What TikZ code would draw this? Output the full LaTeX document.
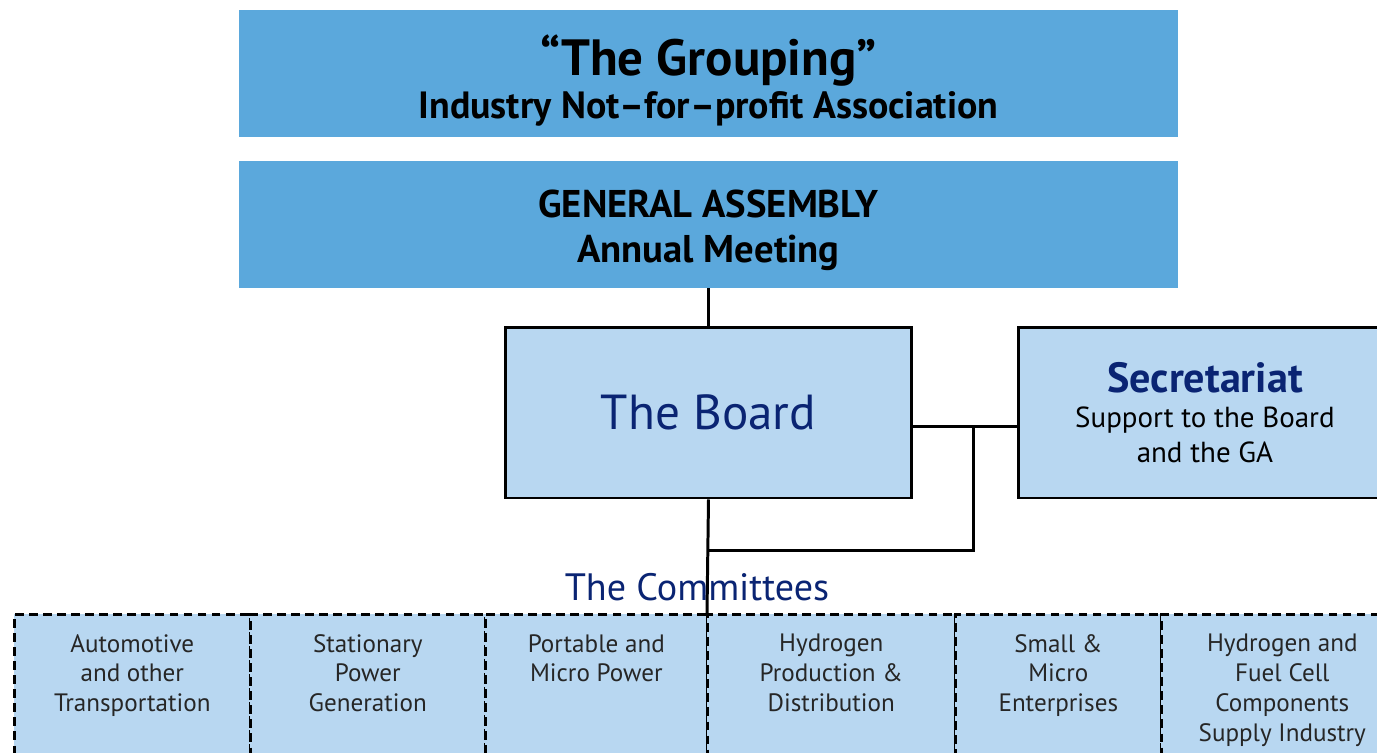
\documentclass[tikz,border=0pt]{standalone}
\usepackage{fontspec}
\setmainfont{PT Sans}
\usepackage{tikz}
\usetikzlibrary{positioning}
\definecolor{headblue}{HTML}{5BA8DC}
\definecolor{paleblue}{HTML}{B8D7F1}
\definecolor{navy}{HTML}{0A2473}

\begin{document}
\begin{tikzpicture}[x=0.02cm, y=-0.02cm,
  headbox/.style={fill=headblue, minimum width=18.78cm, minimum height=2.54cm, inner sep=0pt},
  headtext/.style={anchor=base, font=\bfseries},
  mainbox/.style={draw, line width=1.7pt, fill=paleblue, minimum height=3.42cm, align=center},
  commbox/.style={draw, line width=1.5pt, dash pattern=on 5pt off 3pt, fill=paleblue, minimum height=3.4cm, anchor=north west, inner sep=0pt},
  commtext/.style={align=center, text=black!85, font=\fontsize{14.3}{17}\selectfont},
  link/.style={line width=1.7pt}]
\useasboundingbox (0,0) rectangle (1377,752);

% top boxes
\node[headbox] (grouping) at (708.5,73.5) {};
\node[headbox] (assembly) at (708.5,224.5) {};
\node[headtext, font=\fontsize{29}{33}\selectfont\bfseries] (grouping-name) at (708.5,75) {“The Grouping”};
\node[headtext, font=\fontsize{21.6}{25}\selectfont\bfseries] (grouping-kind) at (708.5,118) {Industry Not–for–profit Association};
\node[headtext, font=\fontsize{22}{25}\selectfont\bfseries] (assembly-name) at (708.5,217) {GENERAL ASSEMBLY};
\node[headtext, font=\fontsize{22}{25}\selectfont\bfseries] (assembly-kind) at (708.5,262) {Annual Meeting};

% board and secretariat
\node[mainbox, minimum width=8.14cm, text=navy, font=\fontsize{28}{32}\selectfont] (board) at (708.5,412.5) {The Board};
\node[mainbox, minimum width=7.46cm, anchor=west, font=\fontsize{16.5}{20}\selectfont] (secretariat) at (1017,412.5)
  {\textcolor{navy}{\fontsize{24}{20}\selectfont\bfseries Secretariat}\\
   Support to the Board\\and the GA};

% committees
\node[commbox, minimum width=4.72cm] (auto) at (13,613) {};
\node[commbox, minimum width=4.70cm] (stat) at (249,613) {};
\node[commbox, minimum width=4.44cm] (port) at (484,613) {};
\node[commbox, minimum width=4.96cm] (hydro) at (706,613) {};
\node[commbox, minimum width=4.12cm] (small) at (954,613) {};
\node[commbox, minimum width=4.84cm] (comp) at (1160,613) {};

\node[commtext, below=0.3cm of auto.north] {Automotive\\and other\\Transportation};
\node[commtext, below=0.3cm of stat.north] {Stationary\\Power\\Generation};
\node[commtext, below=0.3cm of port.north] {Portable and\\Micro Power};
\node[commtext, below=0.3cm of hydro.north] {Hydrogen\\Production \&\\Distribution};
\node[commtext, below=0.3cm of small.north] {Small \&\\Micro\\Enterprises};
\node[commtext, below=0.3cm of comp.north] {Hydrogen and\\Fuel Cell\\Components\\Supply Industry};

\node[text=navy, font=\fontsize{21.7}{24}\selectfont] (committees) at (697,587) {The Committees};

% connectors
\coordinate (split) at (973,426);
\coordinate (joint) at (707,550);
\coordinate (commtop) at (707,613);
\draw[link] (assembly.south -| board.north) -- (board.north);
\draw[link] (board.east |- split) -- (secretariat.west |- split);
\draw[link] (split) |- (joint);
\draw[link] (board.south) -- (commtop);
\end{tikzpicture}
\end{document}
